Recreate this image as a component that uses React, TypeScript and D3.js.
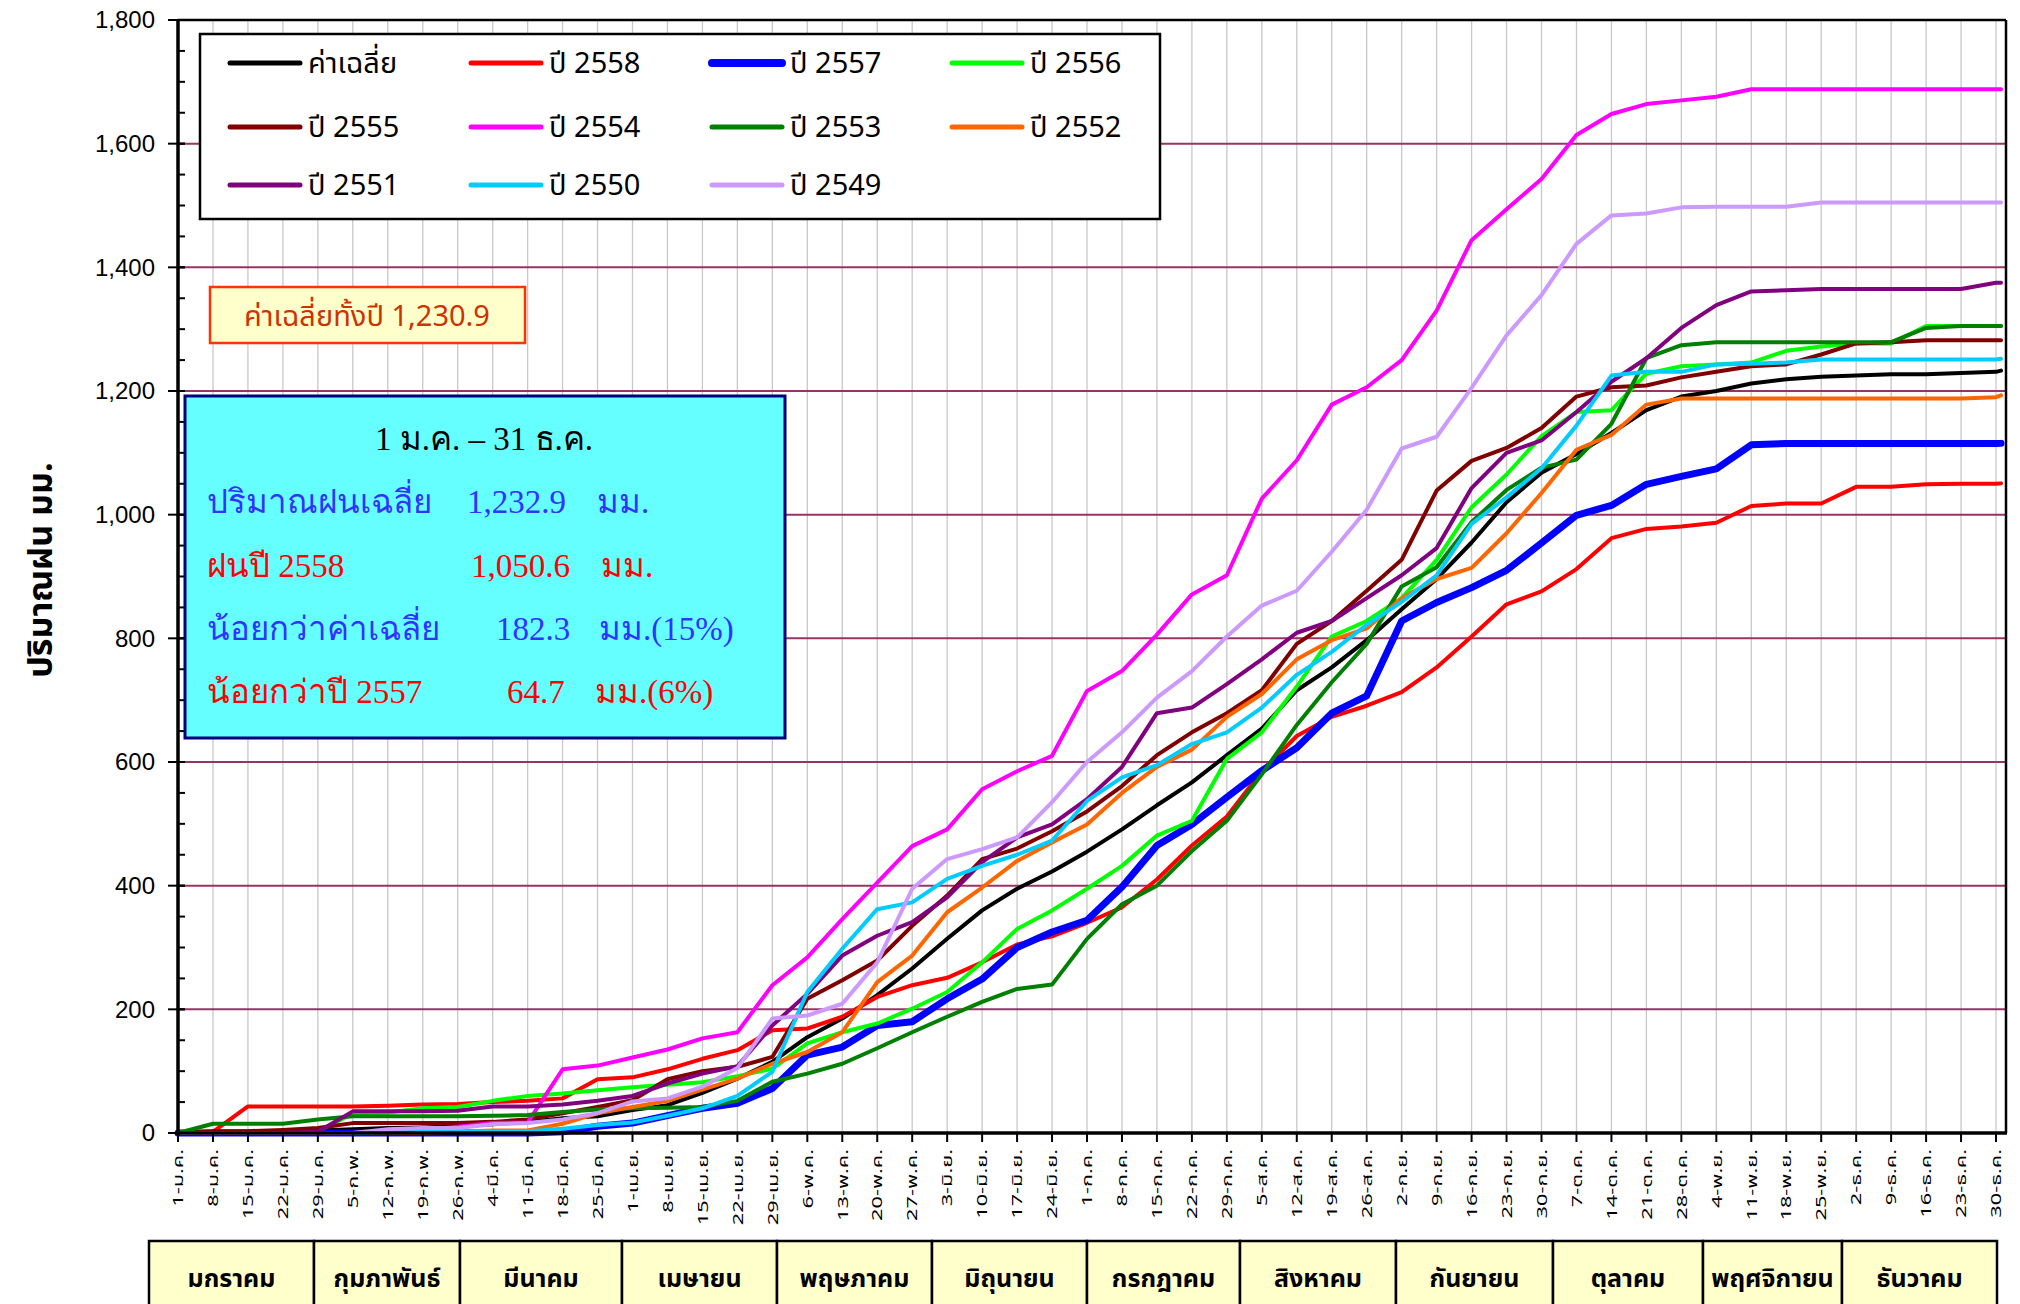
import React from "react";
import * as d3 from "d3";

// ---------- DATA ----------
const tickLabels = [
  "1-ม.ค.", "8-ม.ค.", "15-ม.ค.", "22-ม.ค.", "29-ม.ค.", "5-ก.พ.", "12-ก.พ.", "19-ก.พ.", "26-ก.พ.",
  "4-มี.ค.", "11-มี.ค.", "18-มี.ค.", "25-มี.ค.", "1-เม.ย.", "8-เม.ย.", "15-เม.ย.", "22-เม.ย.", "29-เม.ย.",
  "6-พ.ค.", "13-พ.ค.", "20-พ.ค.", "27-พ.ค.", "3-มิ.ย.", "10-มิ.ย.", "17-มิ.ย.", "24-มิ.ย.",
  "1-ก.ค.", "8-ก.ค.", "15-ก.ค.", "22-ก.ค.", "29-ก.ค.", "5-ส.ค.", "12-ส.ค.", "19-ส.ค.", "26-ส.ค.",
  "2-ก.ย.", "9-ก.ย.", "16-ก.ย.", "23-ก.ย.", "30-ก.ย.", "7-ต.ค.", "14-ต.ค.", "21-ต.ค.", "28-ต.ค.",
  "4-พ.ย.", "11-พ.ย.", "18-พ.ย.", "25-พ.ย.", "2-ธ.ค.", "9-ธ.ค.", "16-ธ.ค.", "23-ธ.ค.", "30-ธ.ค.",
];
const tickDays = [
  0, 7, 14, 21, 28, 35, 42, 49, 56, 63, 70, 77, 84, 91, 98, 105, 112, 119, 126, 133, 140, 147, 154,
  161, 168, 175, 182, 189, 196, 203, 210, 217, 224, 231, 238, 245, 252, 259, 266, 273, 280, 287, 294,
  301, 308, 315, 322, 329, 336, 343, 350, 357, 364,
];
// sample days of the series (weekly + last day)
const sampleDays = [...tickDays, 365];

const avgValues = [0, 1, 2, 3, 4, 6, 8, 9, 11, 14, 18, 24, 27, 37, 45, 65, 88, 115, 155, 185, 223, 266, 314, 360, 395, 423, 455, 491, 530, 567, 611, 654, 716, 753, 797, 847, 896, 955, 1020, 1068, 1098, 1132, 1169, 1191, 1200, 1212, 1219, 1223, 1225, 1227, 1227, 1229, 1231, 1232.9];
const y2558 = [0, 2, 43, 43, 43, 43, 44, 46, 47, 50, 52, 56, 87, 90, 103, 120, 134, 166, 169, 188, 220, 239, 251, 276, 305, 318, 340, 365, 410, 465, 512, 585, 642, 673, 691, 713, 753, 803, 855, 876, 912, 962, 977, 981, 987, 1014, 1018, 1018, 1045, 1045, 1049, 1050, 1050, 1050.6];
const y2557 = [0, 0, 0, 0, 0, 0, 0, 0, 0, 0, 0, 2, 11, 16, 28, 40, 48, 72, 126, 139, 174, 180, 217, 249, 300, 325, 344, 398, 465, 499, 543, 586, 623, 679, 707, 828, 858, 882, 910, 954, 999, 1015, 1049, 1062, 1074, 1113, 1115, 1115, 1115, 1115, 1115, 1115, 1115, 1115.3];
const y2556 = [0, 0, 0, 0, 3, 31, 33, 40, 42, 52, 60, 64, 69, 74, 78, 82, 92, 104, 145, 163, 177, 201, 228, 276, 330, 360, 395, 432, 481, 505, 605, 648, 722, 803, 828, 865, 927, 1012, 1065, 1127, 1166, 1169, 1228, 1240, 1243, 1246, 1265, 1272, 1277, 1277, 1305, 1305, 1305, 1305];
const y2555 = [0, 3, 3, 5, 8, 16, 16, 16, 16, 18, 22, 32, 42, 53, 87, 100, 107, 123, 217, 247, 279, 335, 384, 443, 460, 488, 520, 561, 611, 648, 679, 716, 791, 828, 877, 927, 1039, 1087, 1108, 1140, 1191, 1206, 1209, 1222, 1231, 1240, 1243, 1259, 1277, 1279, 1282, 1282, 1282, 1282];
const y2554 = [0, 0, 0, 0, 0, 0, 3, 5, 10, 16, 17, 103, 109, 122, 135, 153, 163, 239, 284, 346, 405, 464, 491, 556, 585, 610, 715, 747, 806, 871, 902, 1026, 1088, 1178, 1206, 1250, 1330, 1444, 1494, 1543, 1614, 1648, 1664, 1670, 1676, 1688, 1688, 1688, 1688, 1688, 1688, 1688, 1688, 1688];
const y2553 = [0, 15, 15, 15, 22, 27, 27, 27, 27, 28, 29, 34, 38, 40, 41, 42, 52, 83, 96, 112, 137, 163, 188, 212, 233, 240, 314, 370, 400, 456, 505, 580, 660, 729, 791, 884, 915, 988, 1040, 1076, 1089, 1147, 1253, 1274, 1279, 1279, 1279, 1279, 1279, 1279, 1302, 1305, 1305, 1305];
const y2552 = [0, 0, 0, 0, 0, 0, 0, 0, 2, 4, 4, 15, 32, 42, 52, 70, 88, 112, 131, 163, 244, 287, 357, 397, 440, 470, 499, 550, 592, 620, 673, 710, 766, 797, 816, 865, 896, 914, 970, 1035, 1105, 1129, 1178, 1188, 1188, 1188, 1188, 1188, 1188, 1188, 1188, 1188, 1190, 1193];
const y2551 = [0, 0, 0, 0, 2, 35, 35, 35, 36, 43, 43, 46, 52, 60, 80, 96, 108, 174, 225, 287, 319, 341, 381, 438, 478, 499, 540, 592, 679, 688, 726, 766, 809, 828, 865, 902, 946, 1043, 1100, 1120, 1166, 1215, 1253, 1302, 1339, 1361, 1363, 1365, 1365, 1365, 1365, 1365, 1375, 1375];
const y2550 = [0, 0, 0, 0, 0, 0, 1, 3, 3, 3, 3, 7, 13, 17, 28, 40, 60, 99, 228, 298, 362, 373, 411, 432, 450, 473, 537, 575, 595, 629, 648, 688, 741, 778, 822, 859, 902, 985, 1028, 1075, 1144, 1225, 1231, 1231, 1243, 1244, 1246, 1251, 1251, 1251, 1251, 1251, 1251, 1252];
const y2549 = [0, 0, 0, 0, 0, 0, 6, 8, 8, 14, 16, 22, 32, 51, 56, 75, 105, 185, 190, 209, 276, 395, 443, 459, 478, 535, 600, 648, 704, 747, 803, 853, 877, 940, 1008, 1107, 1126, 1205, 1290, 1355, 1438, 1484, 1487, 1497, 1498, 1498, 1498, 1505, 1505, 1505, 1505, 1505, 1505, 1505];

const seriesNames = ["ค่าเฉลี่ย", "ปี 2558", "ปี 2557", "ปี 2556", "ปี 2555", "ปี 2554", "ปี 2553", "ปี 2552", "ปี 2551", "ปี 2550", "ปี 2549"];
const seriesValues = [avgValues, y2558, y2557, y2556, y2555, y2554, y2553, y2552, y2551, y2550, y2549];

const yTicks = [0, 200, 400, 600, 800, 1000, 1200, 1400, 1600, 1800];

const monthNames = ["มกราคม", "กุมภาพันธ์", "มีนาคม", "เมษายน", "พฤษภาคม", "มิถุนายน", "กรกฎาคม", "สิงหาคม", "กันยายน", "ตุลาคม", "พฤศจิกายน", "ธันวาคม"];

// ---------- STYLE / LAYOUT ----------
const seriesColors = ["#000000", "#ff0000", "#0000ff", "#00ff00", "#800000", "#ff00ff", "#008000", "#ff6600", "#800080", "#00ccff", "#cc99ff"];
const seriesWidths = [4, 4, 7, 4, 4, 4, 4, 4, 4, 4, 4];

const W = 2020, H = 1304;
const PL = 178, PR = 2006, PT = 20, PB = 1133;
const monthEdges = [149, 314, 460, 622, 777, 932, 1087, 1240, 1396, 1553, 1703, 1842, 1997];
const THAI = "Tahoma, 'Noto Sans Thai', 'DejaVu Sans', Arial, sans-serif";
const SANS = "Arial, 'Liberation Sans', 'DejaVu Sans', sans-serif";
const SERIF = "'Times New Roman', 'Liberation Serif', 'DejaVu Serif', serif";

export default function App() {
  const x = d3.scaleLinear().domain([0, 366]).range([PL, PR]);
  const y = d3.scaleLinear().domain([0, 1800]).range([PB, PT]);
  const line = d3
    .line<[number, number]>()
    .x((d) => x(d[0]))
    .y((d) => y(d[1]));
  const minorTicks = d3.range(0, 1801, 50);

  const legendCols = [230, 471, 712, 952];
  const legendRows = [63, 127, 185];

  return (
    <div style={{ position: "fixed", left: 0, top: 0 }}>
      <svg width={W} height={H} style={{ display: "block", background: "#fff" }}>
        {/* vertical grid */}
        {tickDays.map((d, i) => (
          <line key={"vg" + i} x1={x(d)} x2={x(d)} y1={PT} y2={PB} stroke="#c8c8c8" strokeWidth={1.3} />
        ))}
        {/* horizontal grid */}
        {yTicks.filter((t) => t > 0 && t < 1800).map((t) => (
          <line key={"hg" + t} x1={PL} x2={PR} y1={y(t)} y2={y(t)} stroke="#993366" strokeWidth={2} />
        ))}
        {/* plot border */}
        <line x1={PL} x2={PR} y1={PT} y2={PT} stroke="#000" strokeWidth={2.5} />
        <line x1={PR} x2={PR} y1={PT} y2={PB} stroke="#000" strokeWidth={2.5} />

        {/* series */}
        <g fill="none" strokeLinejoin="round" strokeLinecap="round">
          {seriesValues.map((vals, si) => (
            <path
              key={"s" + si}
              d={line(sampleDays.map((d, i) => [d, vals[i]] as [number, number])) || ""}
              stroke={seriesColors[si]}
              strokeWidth={seriesWidths[si]}
            />
          ))}
        </g>

        {/* axes */}
        <line x1={PL} x2={PL} y1={PT - 1} y2={PB + 2} stroke="#000" strokeWidth={3.5} />
        <line x1={PL - 2} x2={PR + 1} y1={PB} y2={PB} stroke="#000" strokeWidth={3.5} />
        {minorTicks.map((t) => (
          <line key={"mt" + t} x1={PL} x2={PL + 7} y1={y(t)} y2={y(t)} stroke="#000" strokeWidth={2} />
        ))}
        {yTicks.map((t) => (
          <g key={"yt" + t}>
            <line x1={PL - 10} x2={PL + 7} y1={y(t)} y2={y(t)} stroke="#000" strokeWidth={2} />
            <text x={155} y={y(t)} dy="0.35em" textAnchor="end" fontFamily={SANS} fontSize={24}>
              {d3.format(",")(t)}
            </text>
          </g>
        ))}
        {tickDays.map((d, i) => (
          <g key={"xt" + i}>
            <line x1={x(d)} x2={x(d)} y1={PB} y2={PB + 9} stroke="#000" strokeWidth={2} />
            <text
              transform={`translate(${x(d)},${PB + 16}) rotate(-90) scale(1.45,1)`}
              textAnchor="end"
              dy="0.35em"
              fontFamily={THAI}
              fontSize={15}
            >
              {tickLabels[i]}
            </text>
          </g>
        ))}

        {/* y axis title */}
        <text
          transform={`translate(40,570) rotate(-90)`}
          textAnchor="middle"
          dy="0.35em"
          fontFamily={THAI}
          fontWeight="bold"
          fontSize={34}
        >
          ปริมาณฝน มม.
        </text>

        {/* legend */}
        <rect x={200} y={34} width={960} height={185} fill="#fff" stroke="#000" strokeWidth={2.5} />
        {seriesNames.map((name, i) => {
          const cx = legendCols[i % 4];
          const cy = legendRows[Math.floor(i / 4)];
          return (
            <g key={"lg" + i}>
              <line x1={cx} x2={cx + 70} y1={cy} y2={cy} stroke={seriesColors[i]} strokeWidth={seriesWidths[i] + 1} strokeLinecap="round" />
              <text x={cx + 78} y={cy} dy="0.35em" fontFamily={THAI} fontSize={29}>
                {name}
              </text>
            </g>
          );
        })}

        {/* annual average box */}
        <rect x={210} y={287} width={315} height={56} fill="#ffffcc" stroke="#ff3300" strokeWidth={2.5} />
        <text x={367} y={316} dy="0.35em" textAnchor="middle" fontFamily={THAI} fontSize={29} fill="#cc3300">
          ค่าเฉลี่ยทั้งปี 1,230.9
        </text>

        {/* info box */}
        <rect x={185} y={396} width={600} height={342} fill="#66ffff" stroke="#000080" strokeWidth={3} />
        <g fontFamily={SERIF} fontSize={33}>
          <text x={484} y={450} textAnchor="middle" fill="#000">1 ม.ค. – 31 ธ.ค.</text>
          <text x={207} y={513} fill="#3333ff">ปริมาณฝนเฉลี่ย</text>
          <text x={467} y={513} fill="#3333ff">1,232.9</text>
          <text x={597} y={513} fill="#3333ff">มม.</text>
          <text x={207} y={577} fill="#ff0000">ฝนปี 2558</text>
          <text x={471} y={577} fill="#ff0000">1,050.6</text>
          <text x={601} y={577} fill="#ff0000">มม.</text>
          <text x={207} y={640} fill="#3333ff">น้อยกว่าค่าเฉลี่ย</text>
          <text x={496} y={640} fill="#3333ff">182.3</text>
          <text x={599} y={640} fill="#3333ff">มม.(15%)</text>
          <text x={207} y={703} fill="#ff0000">น้อยกว่าปี 2557</text>
          <text x={507} y={703} fill="#ff0000">64.7</text>
          <text x={595} y={703} fill="#ff0000">มม.(6%)</text>
        </g>

        {/* month table */}
        {monthNames.map((m, i) => {
          const x0 = monthEdges[i], x1 = monthEdges[i + 1];
          return (
            <g key={"m" + i}>
              <rect x={x0} y={1241} width={x1 - x0} height={80} fill="#ffffcc" stroke="#000" strokeWidth={2.5} />
              <text x={(x0 + x1) / 2} y={1278} dy="0.35em" textAnchor="middle" fontFamily={THAI} fontWeight="bold" fontSize={25}>
                {m}
              </text>
            </g>
          );
        })}
      </svg>
    </div>
  );
}
